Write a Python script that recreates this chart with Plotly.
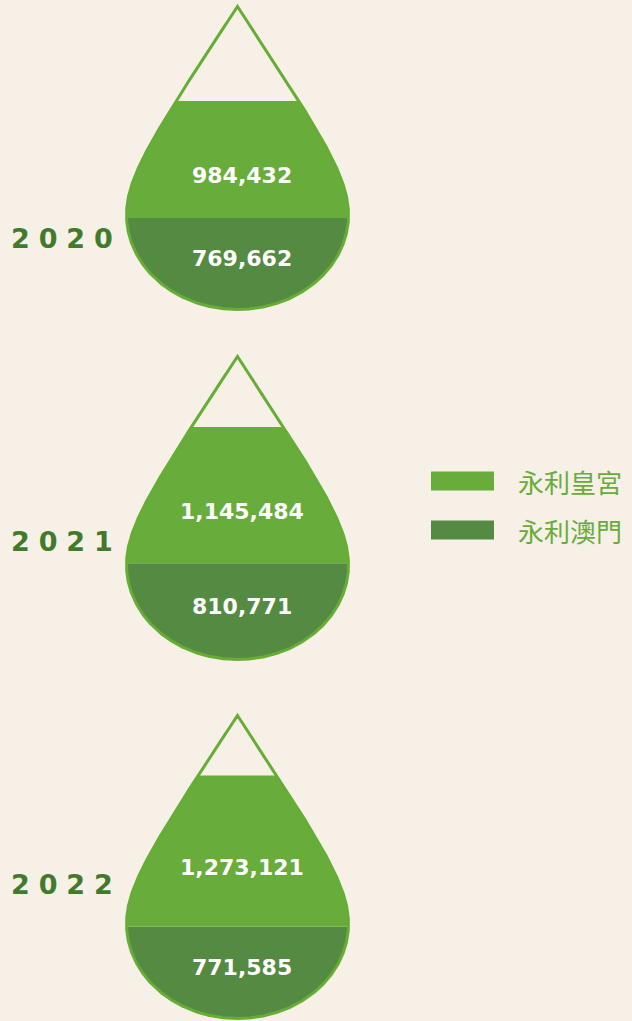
import numpy as np
import plotly.graph_objects as go

# data
YEARS = ["2020", "2021", "2022"]
PALACE = [984432, 1145484, 1273121]   # 永利皇宮 (upper layer)
MACAU = [769662, 810771, 771585]      # 永利澳門 (lower layer)
SERIES = ["永利皇宮", "永利澳門"]
DROP_MAX = 2_550_000                  # value that fills a drop up to the tip

# look
W, H = 632, 1021
BG = "#f6f0e6"
OUTLINE = "#66ad35"
C_PALACE = "#68ac3c"
C_MACAU = "#548a42"
C_YEAR = "#427a2c"
C_LEGEND = "#6aab3c"

# drop geometry in pixels (depth measured down from the tip)
DROP_H = 303
CX = 237.5
RX = 111.0
WIDE_D = 208.5          # depth of the widest point
RY = DROP_H - WIDE_D    # bottom bowl radius
BEZ = np.array([[0, 0], [85, 129], [RX, 170], [RX, WIDE_D]])
BOTTOMS = [309.5, 659.5, 1018.5]
YEAR_Y = [220.5, 541, 902]
K = DROP_MAX / DROP_H   # value per pixel

_t = np.linspace(0, 1, 800)[:, None]
_curve = (1 - _t) ** 3 * BEZ[0] + 3 * (1 - _t) ** 2 * _t * BEZ[1] \
    + 3 * (1 - _t) * _t ** 2 * BEZ[2] + _t ** 3 * BEZ[3]


def half_width(depth):
    depth = np.asarray(depth, dtype=float)
    upper = np.interp(depth, _curve[:, 1], _curve[:, 0])
    bowl = RX * np.sqrt(np.clip(1 - ((depth - WIDE_D) / RY) ** 2, 0, None))
    return np.where(depth <= WIDE_D, upper, bowl)


def band(v0, v1, n=600):
    t = np.linspace(0, 1, n)
    vs = v0 + (v1 - v0) * t
    if v0 == 0:
        vs = v1 * t ** 2   # denser near the round bottom
    ws = half_width(DROP_H - vs / K)
    x = np.concatenate([CX - ws, (CX + ws)[::-1]])
    y = np.concatenate([vs, vs[::-1]])
    return np.append(x, x[0]), np.append(y, y[0])


fig = go.Figure()
annotations = []

for i, year in enumerate(YEARS):
    n = i + 1
    sfx = str(n) if n > 1 else ""
    xa, ya = "x" + sfx, "y" + sfx
    total = MACAU[i] + PALACE[i]

    x, y = band(0, MACAU[i])
    fig.add_trace(go.Scatter(x=x, y=y, xaxis=xa, yaxis=ya, mode="lines", fill="toself",
                             fillcolor=C_MACAU, line=dict(width=0), hoverinfo="skip",
                             name=SERIES[1], showlegend=False))
    x, y = band(MACAU[i], total)
    fig.add_trace(go.Scatter(x=x, y=y, xaxis=xa, yaxis=ya, mode="lines", fill="toself",
                             fillcolor=C_PALACE, line=dict(width=0), hoverinfo="skip",
                             name=SERIES[0], showlegend=False))
    x, y = band(0, DROP_MAX)
    fig.add_trace(go.Scatter(x=x, y=y, xaxis=xa, yaxis=ya, mode="lines",
                             line=dict(color=OUTLINE, width=3), hoverinfo="skip",
                             showlegend=False))

    b = BOTTOMS[i]
    top_px = max(b - DROP_H - 6, 0)
    bot_px = min(b + 2.5, H)
    fig.layout["xaxis" + sfx] = dict(
        range=[0, W], domain=[0, 1], visible=False, fixedrange=True, anchor=ya)
    fig.layout["yaxis" + sfx] = dict(
        range=[-(bot_px - b) * K, DROP_MAX + (b - DROP_H - top_px) * K],
        domain=[(H - bot_px) / H, (H - top_px) / H],
        visible=False, fixedrange=True, anchor=xa)

    label_font = dict(family="DejaVu Sans", size=22, color="white", weight="bold")
    annotations.append(dict(x=CX + 4, y=(MACAU[i] + total) / 2 - 16 * K, xref=xa, yref=ya,
                            text=f"{PALACE[i]:,}", showarrow=False, font=label_font))
    annotations.append(dict(x=CX + 4, y=MACAU[i] / 2 + 5 * K, xref=xa, yref=ya,
                            text=f"{MACAU[i]:,}", showarrow=False, font=label_font))
    annotations.append(dict(x=62, y=1 - YEAR_Y[i] / H, xref="x", yref="paper",
                            text="\u2004".join(year), showarrow=False,
                            font=dict(family="DejaVu Sans", size=27, color=C_YEAR,
                                      weight="bold")))

# legend drawn by hand
shapes = []
for name, color, yc in [(SERIES[0], C_PALACE, 481), (SERIES[1], C_MACAU, 530)]:
    shapes.append(dict(type="rect", xref="x", yref="paper", x0=431, x1=494,
                       y0=1 - (yc + 9.5) / H, y1=1 - (yc - 9.5) / H,
                       fillcolor=color, line=dict(width=0)))
    annotations.append(dict(x=516, y=1 - yc / H, xref="x", yref="paper", xanchor="left",
                            text=name, showarrow=False,
                            font=dict(family="Noto Sans CJK TC", size=26, color=C_LEGEND)))

fig.update_layout(
    width=W, height=H,
    margin=dict(l=0, r=0, t=0, b=0),
    paper_bgcolor=BG, plot_bgcolor="rgba(0,0,0,0)",
    showlegend=False,
    annotations=annotations,
    shapes=shapes,
)

fig.write_html("out.html", config={"displayModeBar": False},
               post_script="document.body.style.margin='0';")
